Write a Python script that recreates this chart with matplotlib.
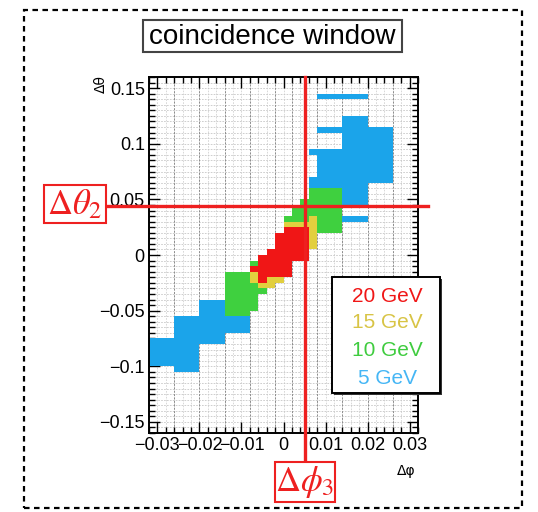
import numpy as np
import matplotlib
matplotlib.use("Agg")
import matplotlib.pyplot as plt
import matplotlib.transforms as mtransforms
from matplotlib.colors import ListedColormap
from matplotlib.patches import Rectangle
from matplotlib.ticker import MultipleLocator

plt.rcParams['font.family'] = ['Liberation Sans', 'DejaVu Sans']
plt.rcParams['mathtext.fontset'] = 'stix'

# histogram binning (dphi, dtheta)
x_edges = np.linspace(-0.032, 0.032, 33)
y_edges = np.linspace(-0.16, 0.16, 65)

# filled cells per threshold: (dphi_lo, dphi_hi, dtheta_lo, dtheta_hi)
cells_5gev = [
    (-0.032, -0.026, -0.100, -0.075),
    (-0.026, -0.020, -0.105, -0.055),
    (-0.020, -0.014, -0.080, -0.040),
    (-0.014, -0.008, -0.070, -0.055),
    (0.006, 0.014, 0.060, 0.070),
    (0.008, 0.014, 0.070, 0.090),
    (0.006, 0.014, 0.090, 0.095),
    (0.008, 0.014, 0.110, 0.115),
    (0.014, 0.020, 0.045, 0.125),
    (0.014, 0.020, 0.030, 0.035),
    (0.020, 0.026, 0.065, 0.115),
    (0.008, 0.020, 0.140, 0.145),
]
cells_10gev = [
    (-0.014, -0.008, -0.055, -0.015),
    (-0.008, -0.006, -0.050, -0.025),
    (-0.006, -0.004, -0.035, -0.030),
    (-0.008, -0.006, -0.010, -0.005),
    (0.000, 0.002, 0.030, 0.035),
    (0.002, 0.004, 0.030, 0.045),
    (0.004, 0.006, 0.030, 0.050),
    (0.006, 0.008, 0.035, 0.060),
    (0.008, 0.014, 0.020, 0.060),
]
cells_15gev = [
    (-0.008, -0.006, -0.025, -0.015),
    (-0.006, -0.004, -0.030, -0.025),
    (-0.004, -0.002, -0.030, -0.020),
    (-0.002, 0.000, -0.025, -0.020),
    (0.000, 0.006, 0.025, 0.030),
    (0.006, 0.008, 0.005, 0.035),
]
cells_20gev = [
    (-0.008, -0.006, -0.015, -0.010),
    (-0.006, -0.004, -0.025, 0.000),
    (-0.004, -0.002, -0.020, 0.005),
    (-0.002, 0.000, -0.020, 0.020),
    (0.000, 0.002, -0.020, 0.025),
    (0.002, 0.006, -0.005, 0.025),
]

labels = ["20 GeV", "15 GeV", "10 GeV", "5 GeV"]
cell_colors = ['#1ba4ea', '#3fd03f', '#e2cf3e', '#f01616']   # 5, 10, 15, 20
text_colors = ['#f01616', '#d8c445', '#3fcc3f', '#45b6f5']

dphi_cut = 0.005
dtheta_cut = 0.044

# fill category grid (later thresholds drawn on top)
xc = 0.5 * (x_edges[:-1] + x_edges[1:])
yc = 0.5 * (y_edges[:-1] + y_edges[1:])
grid = np.zeros((len(yc), len(xc)))
for level, cells in enumerate([cells_5gev, cells_10gev, cells_15gev, cells_20gev], start=1):
    for x0, x1, y0, y1 in cells:
        mx = (xc > x0) & (xc < x1)
        my = (yc > y0) & (yc < y1)
        grid[np.ix_(my, mx)] = level
grid = np.ma.masked_equal(grid, 0)

W, H = 538, 512
fig = plt.figure(figsize=(W / 100, H / 100), dpi=100)

def fx(px):
    return px / W

def fy(py):
    return 1 - py / H

ax = fig.add_axes([fx(149), fy(433), fx(418) - fx(149), fy(77) - fy(433)])

# bin grid
ax.vlines(x_edges, -0.16, 0.16, colors='#d2d2d2', linestyles=(0, (2, 1.5)), linewidth=0.6, zorder=1)
ax.hlines(y_edges, -0.032, 0.032, colors='#c6c6c6', linestyles=(0, (2, 1.5)), linewidth=0.6, zorder=1)
major_x = np.concatenate([-0.002 - 0.006 * np.arange(5), 0.002 + 0.006 * np.arange(5)])
ax.vlines(major_x, -0.16, 0.16, colors='#8c8c8c', linestyles=(0, (2, 1.5)), linewidth=0.7, zorder=1)

ax.pcolormesh(x_edges, y_edges, grid, cmap=ListedColormap(cell_colors), vmin=0.5, vmax=4.5, zorder=2)

ax.set_xlim(-0.032, 0.032)
ax.set_ylim(-0.16, 0.16)
ax.xaxis.set_major_locator(MultipleLocator(0.01))
ax.xaxis.set_minor_locator(MultipleLocator(0.002))
ax.yaxis.set_major_locator(MultipleLocator(0.05))
ax.yaxis.set_minor_locator(MultipleLocator(0.005))
ax.set_xticks([-0.03, -0.02, -0.01, 0, 0.01, 0.02, 0.03])
ax.set_xticklabels(["\u22120.03", "\u22120.02", "\u22120.01", "0", "0.01", "0.02", "0.03"])
ax.set_yticks([-0.15, -0.1, -0.05, 0, 0.05, 0.1, 0.15])
ax.set_yticklabels(["\u22120.15", "\u22120.1", "\u22120.05", "0", "0.05", "0.1", "0.15"])
ax.tick_params(which='both', direction='in', top=True, right=True, labelsize=13, width=1, pad=3)
ax.tick_params(which='major', length=8)
ax.tick_params(which='minor', length=4)
for s in ax.spines.values():
    s.set_linewidth(1.4)
    s.set_zorder(5)

# cut lines extending outside the frame
tr_h = mtransforms.blended_transform_factory(ax.transAxes, ax.transData)
ax.plot([(106 - 149) / 269, (428 - 149) / 269], [dtheta_cut, dtheta_cut], color='#ee2020',
        lw=2.4, transform=tr_h, clip_on=False, zorder=6)
tr_v = mtransforms.blended_transform_factory(ax.transData, ax.transAxes)
ax.plot([dphi_cut, dphi_cut], [(433 - 462) / 356, 1.0], color='#ee2020',
        lw=2.4, transform=tr_v, clip_on=False, zorder=6)

# axis titles
fig.text(fx(101), fy(84), "\u0394\u03b8", rotation=90, ha='center', va='center', fontsize=10,
         family='DejaVu Sans')
fig.text(fx(406), fy(471), "\u0394\u03c6", ha='center', va='center', fontsize=10, family='DejaVu Sans')

# title box
fig.add_artist(Rectangle((fx(143), fy(52)), fx(402) - fx(143), fy(20) - fy(52), transform=fig.transFigure,
                         facecolor='white', edgecolor='#444444', lw=1.5))
fig.text(fx(272.5), fy(37), "coincidence window", ha='center', va='center', fontsize=20, color='black')

# legend box
fig.add_artist(Rectangle((fx(334), fy(395)), fx(440) - fx(332), fy(277) - fy(393), transform=fig.transFigure,
                         facecolor='#333333', edgecolor='none', zorder=3))
fig.add_artist(Rectangle((fx(332), fy(393)), fx(440) - fx(332), fy(277) - fy(393), transform=fig.transFigure,
                         facecolor='white', edgecolor='black', lw=1.4, zorder=3))
for lab, col, py in zip(labels, text_colors, [296, 323, 350, 378]):
    fig.text(fx(387), fy(py), lab, ha='center', va='center', fontsize=15, color=col, zorder=4)

# cut labels
fig.add_artist(Rectangle((fx(44), fy(223)), fx(106) - fx(44), fy(185) - fy(223), transform=fig.transFigure,
                         facecolor='white', edgecolor='#ee2020', lw=1.5, zorder=3))
fig.text(fx(75), fy(204), r"$\Delta\theta_2$", ha='center', va='center', fontsize=25, color='#ee2020', zorder=4)
fig.add_artist(Rectangle((fx(275), fy(502)), fx(335) - fx(275), fy(462) - fy(502), transform=fig.transFigure,
                         facecolor='white', edgecolor='#ee2020', lw=1.5, zorder=3))
fig.text(fx(305), fy(482), r"$\Delta\phi_3$", ha='center', va='center', fontsize=25, color='#ee2020', zorder=4)

# outer dashed frame
fig.add_artist(Rectangle((fx(24), fy(508)), fx(522) - fx(24), fy(10) - fy(508), transform=fig.transFigure,
                         facecolor='none', edgecolor='black', lw=1.6, linestyle=(0, (2.5, 2))))

fig.savefig("out.png", dpi=100)
